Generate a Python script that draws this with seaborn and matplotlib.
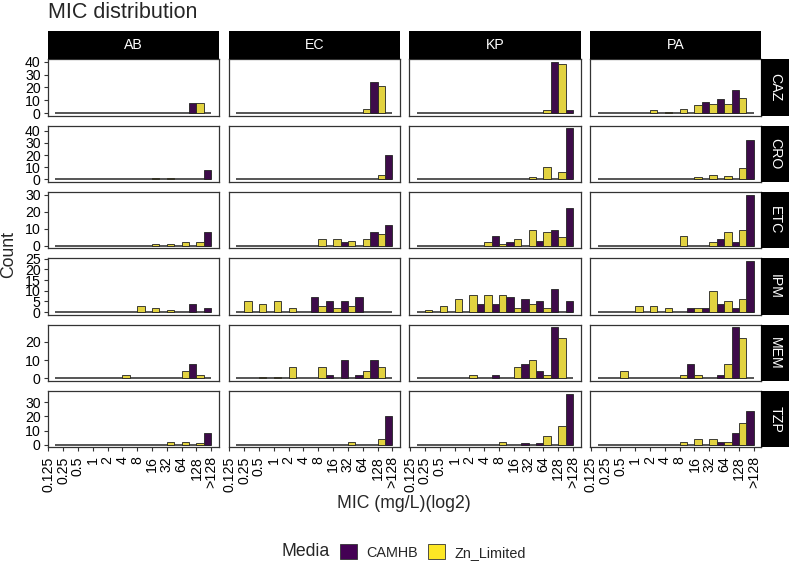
import numpy as np
import pandas as pd
import matplotlib
matplotlib.use("Agg")
import matplotlib.pyplot as plt
import seaborn as sns
from matplotlib.patches import Patch

# ---------------- data ----------------
mic_levels = ["0.125", "0.25", "0.5", "1", "2", "4", "8", "16", "32", "64", "128", ">128"]
organisms = ["AB", "EC", "KP", "PA"]
drugs = ["CAZ", "CRO", "ETC", "IPM", "MEM", "TZP"]
media = ["CAMHB", "Zn_Limited"]
media_colors = ["#440154", "#FDE725"]

#                 0.125 .25 .5  1  2  4  8 16 32 64 128 >128
CAZ_CAMHB = {"AB": [0, 0, 0, 0, 0, 0, 0, 0, 0, 0, 8, 0],
             "EC": [0, 0, 0, 0, 0, 0, 0, 0, 0, 0, 24, 0],
             "KP": [0, 0, 0, 0, 0, 0, 0, 0, 0, 0, 40, 2],
             "PA": [0, 0, 0, 0, 0, 0, 0, 0, 9, 11, 18, 0]}
CAZ_ZN = {"AB": [0, 0, 0, 0, 0, 0, 0, 0, 0, 0, 8, 0],
          "EC": [0, 0, 0, 0, 0, 0, 0, 0, 0, 3, 21, 0],
          "KP": [0, 0, 0, 0, 0, 0, 0, 0, 0, 2, 38, 0],
          "PA": [0, 0, 0, 0, 2, 1, 3, 6, 7, 7, 12, 0]}

CRO_CAMHB = {"AB": [0, 0, 0, 0, 0, 0, 0, 0, 0, 0, 0, 8],
             "EC": [0, 0, 0, 0, 0, 0, 0, 0, 0, 0, 0, 20],
             "KP": [0, 0, 0, 0, 0, 0, 0, 0, 0, 0, 0, 42],
             "PA": [0, 0, 0, 0, 0, 0, 0, 0, 0, 0, 0, 32]}
CRO_ZN = {"AB": [0, 0, 0, 0, 0, 0, 0, 1, 1, 0, 0, 0],
          "EC": [0, 0, 0, 0, 0, 0, 0, 0, 0, 0, 4, 0],
          "KP": [0, 0, 0, 0, 0, 0, 0, 0, 2, 10, 6, 0],
          "PA": [0, 0, 0, 0, 0, 0, 0, 2, 4, 3, 9, 0]}

ETC_CAMHB = {"AB": [0, 0, 0, 0, 0, 0, 0, 0, 0, 0, 0, 8],
             "EC": [0, 0, 0, 0, 0, 0, 0, 0, 2, 0, 8, 12],
             "KP": [0, 0, 0, 0, 0, 0, 6, 2, 0, 3, 9, 22],
             "PA": [0, 0, 0, 0, 0, 0, 0, 0, 0, 4, 2, 30]}
ETC_ZN = {"AB": [0, 0, 0, 0, 0, 0, 0, 1, 1, 2, 2, 0],
          "EC": [0, 0, 0, 0, 0, 0, 4, 4, 3, 4, 7, 0],
          "KP": [0, 0, 0, 0, 0, 2, 1, 4, 9, 8, 5, 0],
          "PA": [0, 0, 0, 0, 0, 0, 6, 0, 2, 8, 9, 0]}

IPM_CAMHB = {"AB": [0, 0, 0, 0, 0, 0, 0, 0, 0, 0, 4, 2],
             "EC": [0, 0, 0, 0, 0, 0, 7, 5, 5, 7, 0, 0],
             "KP": [0, 0, 0, 0, 0, 4, 4, 7, 6, 5, 11, 5],
             "PA": [0, 0, 0, 0, 0, 0, 0, 2, 2, 4, 2, 24]}
IPM_ZN = {"AB": [0, 0, 0, 0, 0, 0, 3, 2, 1, 0, 0, 0],
          "EC": [0, 5, 4, 5, 2, 0, 3, 2, 3, 0, 0, 0],
          "KP": [0, 1, 3, 6, 8, 8, 8, 2, 4, 2, 0, 0],
          "PA": [0, 0, 0, 3, 3, 2, 0, 2, 10, 5, 6, 0]}

MEM_CAMHB = {"AB": [0, 0, 0, 0, 0, 0, 0, 0, 0, 0, 8, 0],
             "EC": [0, 0, 0, 0, 0, 0, 0, 2, 10, 2, 10, 0],
             "KP": [0, 0, 0, 0, 0, 0, 2, 0, 8, 4, 28, 0],
             "PA": [0, 0, 0, 0, 0, 0, 0, 8, 0, 2, 28, 0]}
MEM_ZN = {"AB": [0, 0, 0, 0, 0, 2, 0, 0, 0, 4, 2, 0],
          "EC": [0, 0, 1, 1, 6, 0, 6, 0, 0, 4, 6, 0],
          "KP": [0, 0, 0, 0, 2, 0, 0, 6, 10, 2, 22, 0],
          "PA": [0, 0, 4, 0, 0, 0, 2, 2, 0, 8, 22, 0]}

TZP_CAMHB = {"AB": [0, 0, 0, 0, 0, 0, 0, 0, 0, 0, 0, 8],
             "EC": [0, 0, 0, 0, 0, 0, 0, 0, 0, 0, 0, 20],
             "KP": [0, 0, 0, 0, 0, 0, 0, 0, 1, 1, 0, 36],
             "PA": [0, 0, 0, 0, 0, 0, 0, 0, 0, 2, 8, 24]}
TZP_ZN = {"AB": [0, 0, 0, 0, 0, 0, 0, 0, 2, 2, 1, 0],
          "EC": [0, 0, 0, 0, 0, 0, 0, 0, 2, 0, 4, 0],
          "KP": [0, 0, 0, 0, 0, 0, 2, 0, 0, 6, 13, 0],
          "PA": [0, 0, 0, 0, 0, 0, 2, 4, 4, 2, 15, 0]}

y_tick_step = {"CAZ": 10, "CRO": 10, "ETC": 10, "IPM": 5, "MEM": 10, "TZP": 10}

tables = {"CAZ": (CAZ_CAMHB, CAZ_ZN), "CRO": (CRO_CAMHB, CRO_ZN),
          "ETC": (ETC_CAMHB, ETC_ZN), "IPM": (IPM_CAMHB, IPM_ZN),
          "MEM": (MEM_CAMHB, MEM_ZN), "TZP": (TZP_CAMHB, TZP_ZN)}

rows = []
for d in drugs:
    for m, tab in zip(media, tables[d]):
        for o in organisms:
            for lvl, c in zip(mic_levels, tab[o]):
                rows.append({"Drug": d, "Org": o, "Media": m, "MIC": lvl, "Count": c})
df = pd.DataFrame(rows)

# ---------------- style ----------------
sns.set_theme(style="white")
plt.rcParams["font.family"] = ["Liberation Sans", "DejaVu Sans"]

W, H = 791, 561
fig = plt.figure(figsize=(W / 100, H / 100), dpi=100)
fig.patch.set_facecolor("white")


def rect(x0, top, w, h):
    return [x0 / W, 1 - (top + h) / H, w / W, h / H]


col_left = [47.5, 228.6, 409.3, 590.0]
pw = 171.2
row_top = [59.3 + 66.35 * i for i in range(6)]
ph = 56.3
palette = dict(zip(media, media_colors))
frame_col = "#333333"
TICK_FS = 10.2

for ri, d in enumerate(drugs):
    rmax = df.loc[df.Drug == d, "Count"].max()
    for ci, o in enumerate(organisms):
        ax = fig.add_axes(rect(col_left[ci], row_top[ri], pw, ph))
        sub = df[(df.Drug == d) & (df.Org == o) & (df.Count > 0)]
        ax.hlines(0, 0.47, 11.0, color="#555555", lw=1.4, zorder=1)
        sns.barplot(data=sub, x="MIC", y="Count", hue="Media", order=mic_levels,
                    hue_order=media, palette=palette, width=1.0, dodge=True,
                    errorbar=None, edgecolor="#222222", linewidth=0.6,
                    legend=False, ax=ax, zorder=2)
        ax.set_xlim(-0.05, 11.5)
        ax.set_ylim(-0.05 * rmax, 1.05 * rmax)
        step = y_tick_step[d]
        ax.set_yticks(np.arange(0, rmax * 1.05 + 0.01, step))
        ax.set_xlabel("")
        ax.set_ylabel("")
        ax.set_facecolor("white")
        for s in ax.spines.values():
            s.set_visible(True)
            s.set_color(frame_col)
            s.set_linewidth(0.9)
        ax.tick_params(axis="both", length=3.2, width=0.8, color=frame_col,
                       labelsize=TICK_FS, labelcolor="black")
        ax.tick_params(axis="y", pad=1.8)
        ax.tick_params(axis="x", pad=3.2)
        if ci == 0:
            ax.tick_params(axis="y", left=True, labelleft=True)
        else:
            ax.tick_params(axis="y", left=False, labelleft=False)
        if ri == len(drugs) - 1:
            ax.tick_params(axis="x", bottom=True, labelbottom=True)
            ax.set_xticks(range(len(mic_levels)))
            ax.set_xticklabels(mic_levels, rotation=90, ha="center", va="top")
        else:
            ax.tick_params(axis="x", bottom=False, labelbottom=False)

        # column strips
        if ri == 0:
            sax = fig.add_axes(rect(col_left[ci], 30.7, pw, 28.6))
            sax.set_facecolor("black")
            sax.set_xticks([]); sax.set_yticks([])
            for s in sax.spines.values():
                s.set_visible(False)
            sax.text(0.5, 0.5, o, color="white", ha="center", va="center",
                     fontsize=TICK_FS, transform=sax.transAxes)
        # row strips
        if ci == len(organisms) - 1:
            sax = fig.add_axes(rect(761.2, row_top[ri], 28.0, ph))
            sax.set_facecolor("black")
            sax.set_xticks([]); sax.set_yticks([])
            for s in sax.spines.values():
                s.set_visible(False)
            sax.text(0.5, 0.5, d, color="white", ha="center", va="center",
                     rotation=270, fontsize=TICK_FS, transform=sax.transAxes)

# titles and axis labels
fig.text(47.5 / W, 1 - 2 / H, "MIC distribution", ha="left", va="top", fontsize=15.5)
fig.text(8.5 / W, 1 - 254 / H, "Count", rotation=90, ha="center", va="center", fontsize=12.7)
fig.text(404 / W, 1 - 504 / H, "MIC (mg/L)(log2)", ha="center", va="center", fontsize=12.7)

# legend
fig.text(281.7 / W, 1 - 552 / H, "Media", ha="left", va="center", fontsize=12.7)
handles = [Patch(facecolor=c, edgecolor="#333333", linewidth=0.6) for c in media_colors]
fig.legend(handles, media, ncol=2, loc="center left",
           bbox_to_anchor=(340 / W, 1 - 552 / H), frameon=False, fontsize=10.4,
           handlelength=1.15, handleheight=1.15, handletextpad=0.68,
           columnspacing=0.7, borderaxespad=0, borderpad=0)

fig.savefig("out.png", dpi=100, facecolor="white")
